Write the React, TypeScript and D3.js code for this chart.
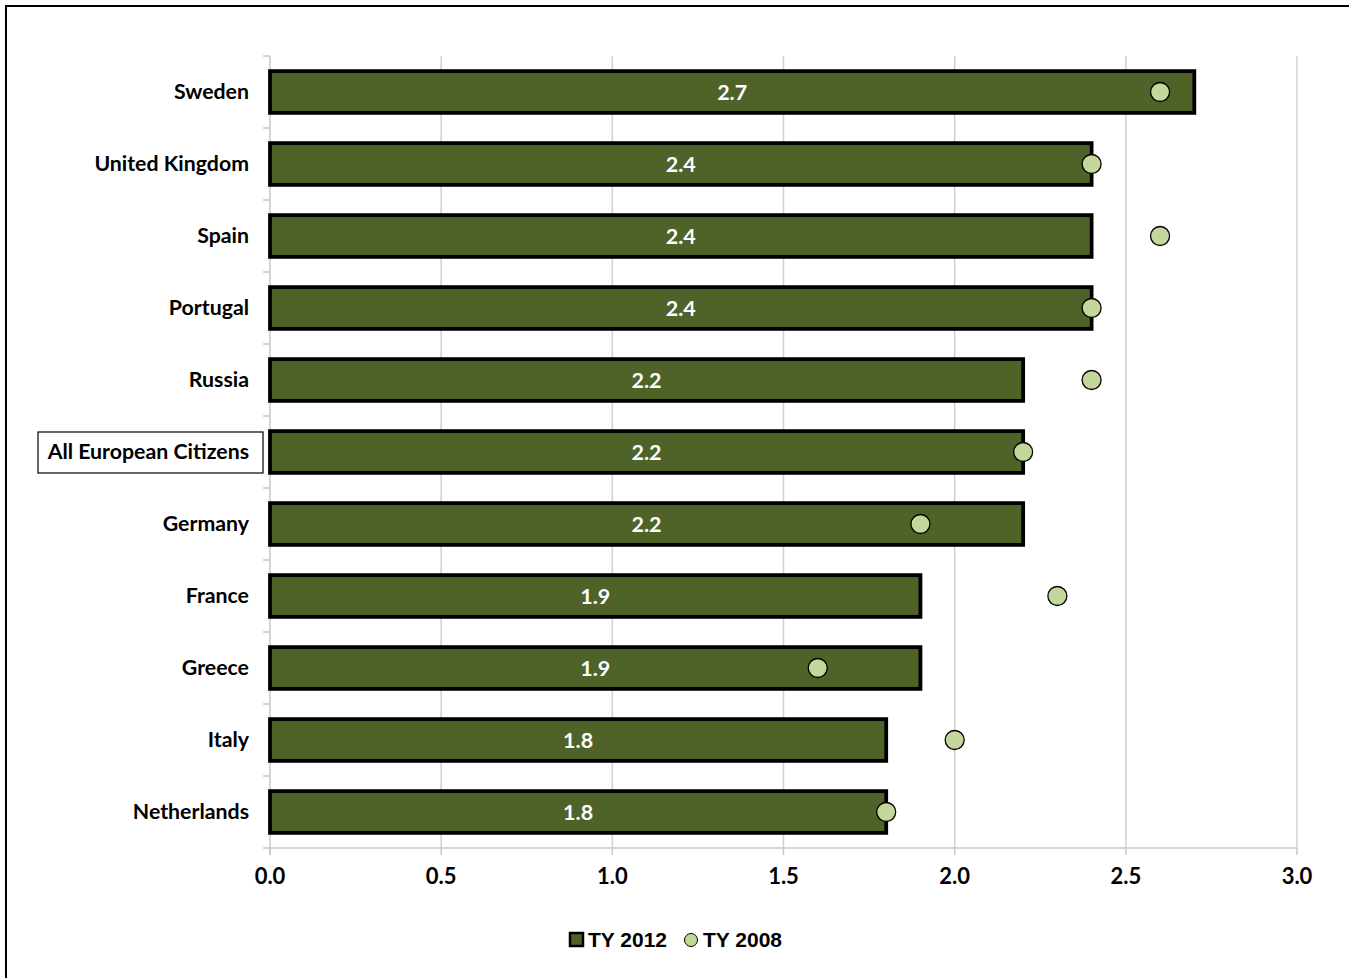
import React from "react";
import * as d3 from "d3";

const categories = ["Sweden", "United Kingdom", "Spain", "Portugal", "Russia", "All European Citizens", "Germany", "France", "Greece", "Italy", "Netherlands"];
const ty2012 = [2.7, 2.4, 2.4, 2.4, 2.2, 2.2, 2.2, 1.9, 1.9, 1.8, 1.8];
const ty2008 = [2.6, 2.4, 2.6, 2.4, 2.4, 2.2, 1.9, 2.3, 1.6, 2.0, 1.8];
const xTicks = [0, 0.5, 1.0, 1.5, 2.0, 2.5, 3.0];
const highlighted = "All European Citizens";

const W = 1349, H = 978;
const FONT = "Lato, 'Noto Sans', sans-serif";

export default function App() {
  const x = d3.scaleLinear().domain([0, 3]).range([270, 1297]);
  const y = d3.scaleBand<string>().domain(categories).range([56, 848]).paddingInner(0.42).paddingOuter(0.21);
  const step = y.step();
  const bw = y.bandwidth();
  return (
    <svg width={W} height={H} style={{ position: "absolute", left: 0, top: 0, background: "#fff" }}>
      <rect x={6} y={6} width={W + 20} height={H + 20} fill="#fff" stroke="#000" strokeWidth={2} />
      {xTicks.map((t) => (
        <g key={t}>
          {t > 0 && <line x1={x(t)} x2={x(t)} y1={56} y2={848} stroke="#d0d0d0" strokeWidth={1.5} />}
          <line x1={x(t)} x2={x(t)} y1={848} y2={855} stroke="#c8c8c8" strokeWidth={1.5} />
          <text x={x(t)} y={884} textAnchor="middle" fontFamily={FONT} fontWeight={700} fontSize={22} fill="#000">{t.toFixed(1)}</text>
        </g>
      ))}
      <line x1={263} x2={1297} y1={848} y2={848} stroke="#c8c8c8" strokeWidth={1.5} />
      <line x1={270} x2={270} y1={56} y2={855} stroke="#c8c8c8" strokeWidth={1.5} />
      {categories.map((_, i) => (
        <line key={i} x1={263} x2={270} y1={56 + i * step} y2={56 + i * step} stroke="#c8c8c8" strokeWidth={1.5} />
      ))}
      {categories.map((c, i) => {
        const yy = y(c)!;
        const cy = yy + bw / 2;
        return (
          <g key={c}>
            <rect x={x(0)} y={yy} width={x(ty2012[i]) - x(0)} height={bw} fill="#4f6228" stroke="#000" strokeWidth={3.8} />
            <text x={(x(0) + x(ty2012[i])) / 2} y={cy + 8} textAnchor="middle" fontFamily={FONT} fontWeight={700} fontSize={21.5} fill="#fff">{ty2012[i].toFixed(1)}</text>
            {c === highlighted && <rect x={38} y={cy - 20} width={225} height={41} fill="#fff" stroke="#000" strokeWidth={1.2} />}
            <text x={249} y={cy + 7} textAnchor="end" fontFamily={FONT} fontWeight={700} fontSize={21.3} fill="#000">{c}</text>
          </g>
        );
      })}
      {categories.map((c, i) => (
        <circle key={c} cx={x(ty2008[i])} cy={y(c)! + bw / 2} r={9.5} fill="#c3d69b" stroke="#000" strokeWidth={1.3} />
      ))}
      <g>
        <rect x={570} y={933} width={13} height={13} fill="#4f6228" stroke="#000" strokeWidth={2.5} />
        <text x={588} y={947} fontFamily="'Liberation Sans', Arial, sans-serif" fontWeight={700} fontSize={21} fill="#000">TY 2012</text>
        <circle cx={691} cy={940} r={6.5} fill="#c3d69b" stroke="#000" strokeWidth={1} />
        <text x={703} y={947} fontFamily="'Liberation Sans', Arial, sans-serif" fontWeight={700} fontSize={21} fill="#000">TY 2008</text>
      </g>
    </svg>
  );
}
